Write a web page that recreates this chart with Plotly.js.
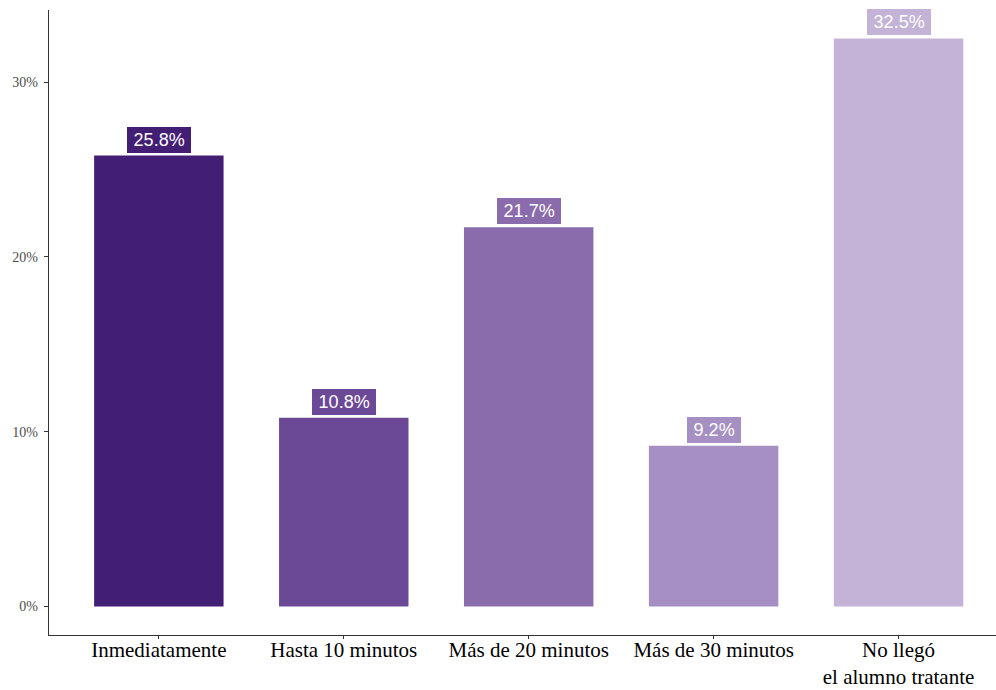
<!DOCTYPE html>
<html>
<head>
<meta charset="utf-8">
<script src="https://cdn.plot.ly/plotly-3.0.1.min.js"></script>
<style>
  html, body { margin: 0; padding: 0; background: #ffffff; }
  #chart { width: 996px; height: 690px; }
</style>
</head>
<body>
<div id="chart"></div>
<script>
// Tiempo de llegada del alumno tratante (porcentaje de casos)
const categories = [
  "Inmediatamente",
  "Hasta 10 minutos",
  "Más de 20 minutos",
  "Más de 30 minutos",
  "No llegó<br>el alumno tratante"
];
const percentages = [25.8, 10.8, 21.7, 9.2, 32.5];
const barColors = ["#421e74", "#6b4996", "#8a6cac", "#a68fc3", "#c4b3d6"];
const yTickValues = [0, 10, 20, 30];
const yTickLabels = ["0%", "10%", "20%", "30%"];

const positions = categories.map((_, i) => i);

const bars = {
  type: "bar",
  x: positions,
  y: percentages,
  width: 0.7,
  marker: { color: barColors, line: { width: 0 } },
  hoverinfo: "skip",
  showlegend: false
};

// Value labels: filled boxes sitting just above each bar
const labels = percentages.map((v, i) => ({
  x: positions[i],
  y: v,
  xref: "x",
  yref: "y",
  text: "\u2009" + v.toFixed(1) + "%\u2009",
  showarrow: false,
  yanchor: "bottom",
  yshift: 3,
  bgcolor: barColors[i],
  borderpad: 3,
  borderwidth: 0,
  font: { family: "Liberation Sans, Arial, sans-serif", size: 18, color: "#ffffff" }
}));

const layout = {
  width: 996,
  height: 690,
  margin: { l: 49, r: 0, t: 10, b: 55, pad: 0 },
  paper_bgcolor: "#ffffff",
  plot_bgcolor: "#ffffff",
  bargap: 0.3,
  xaxis: {
    range: [-0.594, 4.527],
    tickmode: "array",
    tickvals: positions,
    ticktext: categories,
    showgrid: false,
    zeroline: false,
    showline: true,
    linecolor: "#333333",
    linewidth: 1.3,
    ticks: "outside",
    ticklen: 3,
    tickwidth: 1,
    tickcolor: "#333333",
    ticklabelstandoff: -8,
    tickfont: { family: "Liberation Serif, Times New Roman, serif", size: 21, color: "#000000" },
    fixedrange: true
  },
  yaxis: {
    range: [-1.625, 34.125],
    tickmode: "array",
    tickvals: yTickValues,
    ticktext: yTickLabels,
    showgrid: false,
    zeroline: false,
    showline: true,
    linecolor: "#333333",
    linewidth: 1.3,
    ticks: "outside",
    ticklen: 4,
    tickwidth: 1,
    tickcolor: "#333333",
    ticklabelstandoff: 3,
    tickfont: { family: "Liberation Serif, Times New Roman, serif", size: 14, color: "#4d4d4d" },
    fixedrange: true
  },
  annotations: labels
};

Plotly.newPlot("chart", [bars], layout, { displayModeBar: false, staticPlot: true });
</script>
</body>
</html>
